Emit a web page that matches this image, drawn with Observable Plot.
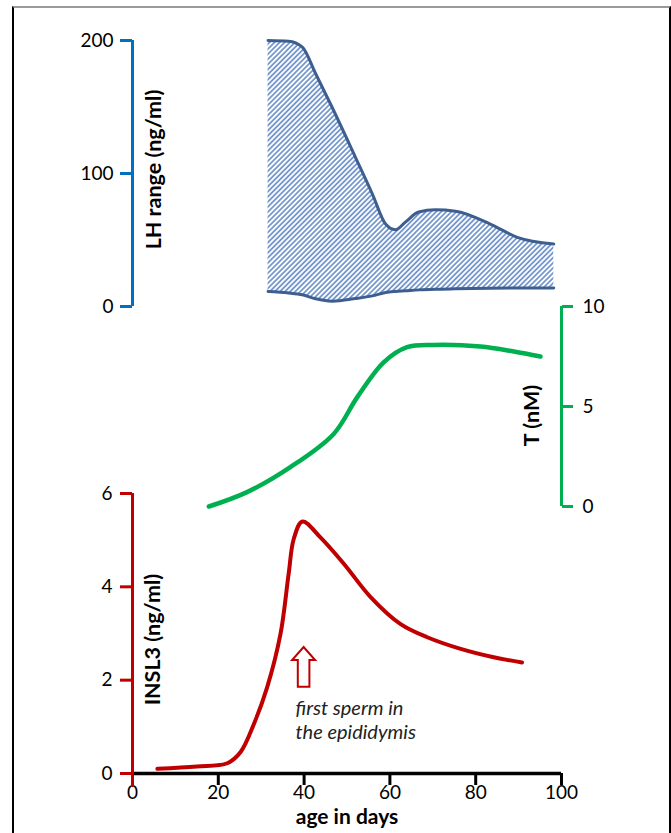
<!DOCTYPE html>
<html>
<head>
<meta charset="utf-8">
<script src="https://cdn.jsdelivr.net/npm/d3@7"></script>
<script src="https://cdn.jsdelivr.net/npm/@observablehq/plot@0.6"></script>
<style>
  body { margin: 0; background: #fff; }
  #wrap { position: relative; width: 671px; height: 833px; overflow: hidden; font-family: Lato, "Open Sans", sans-serif; }
  #frame { position: absolute; left: 12px; top: 6px; width: 655px; height: 900px;
           border-top: 2px solid #9a9a9a; border-left: 2px solid #000; border-right: 2px solid #000; }
  .layer { position: absolute; left: 0; top: 0; }
</style>
</head>
<body>
<div id="wrap"><div id="frame"></div></div>
<script>
// ---- data ----
const lhDays  = [31.6, 36.4, 39.6, 42.7, 46.5, 52, 55.9, 59, 61.3, 63.6, 66.7, 70.6, 75.3, 83.4, 89.7, 98.2];
const lhUpper = [200, 199.5, 195, 175, 150, 112, 84.7, 62, 57.7, 63.4, 71, 72.7, 71.7, 62, 52, 47];
const lhLower = [11.3, 10.2, 8.8, 5.8, 4, 6, 8, 10.5, 11.3, 11.8, 12.5, 13, 13.3, 13.7, 13.9, 14];

const tDays   = [17.8, 26.7, 36.8, 46.9, 52.4, 58.6, 64.0, 70.2, 81.1, 88.9, 95.1];
const tValues = [0, 0.72, 1.97, 3.63, 5.47, 7.22, 7.97, 8.08, 8.0, 7.75, 7.5];

const insl3Days   = [5.8, 15, 22.1, 25.2, 28.3, 31.4, 34.5, 36.4, 37.6, 39.6, 43.8, 49.3, 55.5, 62.5, 68.7, 76.5, 84.2, 90.8];
const insl3Values = [0.1, 0.15, 0.22, 0.46, 1.06, 1.85, 2.99, 4.28, 5.03, 5.40, 5.06, 4.49, 3.78, 3.2, 2.92, 2.67, 2.49, 2.38];

const xTicks = [0, 20, 40, 60, 80, 100];
const lhTicks = [0, 100, 200];
const tTicks = [0, 5, 10];
const insl3Ticks = [0, 2, 4, 6];

const lhLabel = "LH range (ng/ml)";
const tLabel = "T (nM)";
const insl3Label = "INSL3 (ng/ml)";
const xLabel = "age in days";
const annotation = "first sperm in\nthe epididymis";
const arrowDay = 40, arrowFrom = 1.85, arrowTo = 2.7;

// ---- build ----
const lhData = lhDays.map((d, i) => ({day: d, upper: lhUpper[i], lower: lhLower[i]}));
const tData = tDays.map((d, i) => ({day: d, value: tValues[i]}));
const insl3Data = insl3Days.map((d, i) => ({day: d, value: insl3Values[i]}));

const W = 671, H = 833;
const BLUE = "#0070C0", GREEN = "#00B050", RED = "#C00000", LHLINE = "#3D5E8E";
const TICKFS = 19, LABELFS = 21.5;
const style = {background: "transparent", fontFamily: "Lato, 'Open Sans', sans-serif", fontSize: "19px", color: "#000", overflow: "visible"};
const common = {width: W, height: H, marginLeft: 132, marginRight: 110, style};
const fmt = d => String(d);

const plotLH = Plot.plot({
  ...common, marginTop: 40, marginBottom: H - 306,
  x: {domain: [0, 100], axis: null},
  y: {domain: [0, 200]},
  marks: [
    Plot.areaY(lhData, {x: "day", y1: "lower", y2: "upper", fill: "url(#lhHatch)", curve: "monotone-x"}),
    Plot.line(lhData, {x: "day", y: "upper", stroke: LHLINE, strokeWidth: 3, curve: "monotone-x"}),
    Plot.line(lhData, {x: "day", y: "lower", stroke: LHLINE, strokeWidth: 3, curve: "monotone-x"}),
    Plot.ruleX([0], {y1: 200, y2: 0, stroke: BLUE, strokeWidth: 3}),
    Plot.axisY({ticks: lhTicks, tickFormat: fmt, anchor: "left", tickSize: 12, tickPadding: 7, stroke: BLUE, strokeWidth: 3, fill: "#000", label: null, fontSize: TICKFS}),
    Plot.text([lhLabel], {x: 0, y: 103, dx: 22, text: d => d, rotate: -90, fontWeight: "bold", fontSize: LABELFS, fill: "#000"})
  ]
});

const plotT = Plot.plot({
  ...common, marginTop: 306, marginBottom: H - 506,
  x: {domain: [0, 100], axis: null},
  y: {domain: [0, 10]},
  marks: [
    Plot.line(tData, {x: "day", y: "value", stroke: GREEN, strokeWidth: 4.5, curve: "catmull-rom"}),
    Plot.ruleX([100], {y1: 10, y2: 0, stroke: GREEN, strokeWidth: 3}),
    Plot.axisY({ticks: tTicks, tickFormat: fmt, anchor: "right", tickSize: 11, tickPadding: 10, stroke: GREEN, strokeWidth: 3, fill: "#000", label: null, fontSize: TICKFS}),
    Plot.text([tLabel], {x: 100, y: 4.55, dx: -29, text: d => d, rotate: -90, fontWeight: "bold", fontSize: LABELFS, fill: "#000"})
  ]
});

const plotI = Plot.plot({
  ...common, marginTop: 493, marginBottom: H - 773,
  x: {domain: [0, 100]},
  y: {domain: [0, 6]},
  marks: [
    Plot.ruleY([0], {x1: 0, x2: 100, stroke: "#000", strokeWidth: 3.5}),
    Plot.axisX({ticks: xTicks, tickFormat: fmt, anchor: "bottom", tickSize: 12, tickPadding: 0, stroke: "#000", strokeWidth: 3, fill: "#000", label: null, fontSize: TICKFS}),
    Plot.ruleX([0], {y1: 6, y2: 0, insetBottom: -14, stroke: RED, strokeWidth: 3}),
    Plot.axisY({ticks: insl3Ticks, tickFormat: fmt, anchor: "left", tickSize: 12, tickPadding: 8, stroke: RED, strokeWidth: 3, fill: "#000", label: null, fontSize: TICKFS}),
    Plot.line(insl3Data, {x: "day", y: "value", stroke: RED, strokeWidth: 4, curve: "catmull-rom"}),
    Plot.text([annotation], {x: 38, y: 1.17, text: d => d, textAnchor: "start", lineAnchor: "middle", lineHeight: 1.22, fontStyle: "italic", fontSize: 20, fill: "#222"}),
    Plot.text([insl3Label], {x: 0, y: 2.87, dx: 21, text: d => d, rotate: -90, fontWeight: "bold", fontSize: LABELFS, fill: "#000"}),
    Plot.text([xLabel], {frameAnchor: "bottom", dy: 50, text: d => d, fontWeight: "bold", fontSize: 21, fill: "#000"})
  ]
});

// hatch pattern for the LH range
d3.select(plotLH).insert("defs", ":first-child").html(
  '<pattern id="lhHatch" patternUnits="userSpaceOnUse" width="3.6" height="3.6" patternTransform="rotate(45)">' +
  '<rect width="3.6" height="3.6" fill="#fff"/>' +
  '<line x1="0.9" y1="0" x2="0.9" y2="3.6" stroke="#4F7BC0" stroke-width="1.4"/></pattern>'
);

// hollow arrow placed through the INSL3 plot's scales
(function () {
  const sx = plotI.scale("x"), sy = plotI.scale("y");
  const fx = sx.apply ? sx.apply.bind(sx) : d3.scaleLinear(sx.domain, sx.range);
  const fy = sy.apply ? sy.apply.bind(sy) : d3.scaleLinear(sy.domain, sy.range);
  const cx = fx(arrowDay), tip = fy(arrowTo), base = fy(arrowFrom);
  const hw = 11.5, hl = 13, sw = 5.8;
  const p = [[cx, tip], [cx + hw, tip + hl], [cx + sw, tip + hl], [cx + sw, base], [cx - sw, base], [cx - sw, tip + hl], [cx - hw, tip + hl]];
  d3.select(plotI).append("path")
    .attr("d", "M" + p.map(q => q.join(",")).join("L") + "Z")
    .attr("fill", "#fff").attr("stroke", RED).attr("stroke-width", 2).attr("stroke-linejoin", "miter");
})();

const wrap = document.getElementById("wrap");
for (const p of [plotLH, plotT, plotI]) { p.classList.add("layer"); wrap.appendChild(p); }
</script>
</body>
</html>
